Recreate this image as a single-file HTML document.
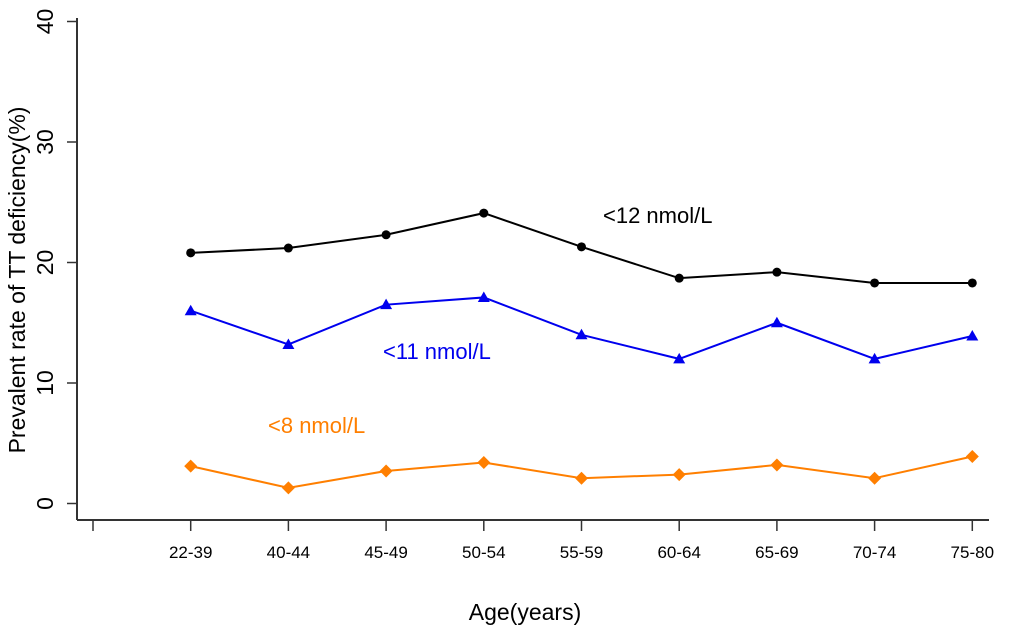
<!DOCTYPE html>
<html><head><meta charset="utf-8"><style>
body{margin:0;background:#fff}
svg{display:block;font-family:"Liberation Sans",Arial,sans-serif}
</style></head><body>
<svg id="chart" width="1020" height="636" viewBox="0 0 1020 636"></svg>
<script>
const categories=["22-39","40-44","45-49","50-54","55-59","60-64","65-69","70-74","75-80"];
const seriesLt12=[20.8,21.2,22.3,24.1,21.3,18.7,19.2,18.3,18.3];
const seriesLt11=[16.0,13.2,16.5,17.1,14.0,12.0,15.0,12.0,13.9];
const seriesLt8=[3.1,1.3,2.7,3.4,2.1,2.4,3.2,2.1,3.9];
const yTicks=[0,10,20,30,40];
const NS="http://www.w3.org/2000/svg";
const svg=document.getElementById('chart');
function el(t,a,p){const e=document.createElementNS(NS,t);for(const k in a)e.setAttribute(k,a[k]);(p||svg).appendChild(e);return e;}
const xs=i=>93+(i+1)*97.7;
const ys=v=>503.5-v*12.05;
let a=el('line',{x1:77,y1:18,x2:77,y2:520,stroke:'#333','stroke-width':2});


a=el('line',{x1:77,y1:520,x2:989,y2:520,stroke:'#333','stroke-width':2});


yTicks.forEach(v=>{
  const t=el('line',{x1:67,y1:ys(v),x2:77,y2:ys(v),stroke:'#333','stroke-width':1.5});
  
  
  const l=el('text',{x:0,y:0,transform:`translate(53,${ys(v)}) rotate(-90)`,'text-anchor':'middle','font-size':23,fill:'#000'});
  l.textContent=v;
  
  
});
for(let i=-1;i<categories.length;i++){
  const t=el('line',{x1:xs(i),y1:520,x2:xs(i),y2:531,stroke:'#333','stroke-width':1.5});
  
  
  if(i>=0){
    const l=el('text',{x:xs(i),y:558,'text-anchor':'middle','font-size':17,fill:'#000'});
    l.textContent=categories[i];
    
    
  }
}
let tt=el('text',{x:525,y:620,'text-anchor':'middle','font-size':23});
tt.textContent='Age(years)';


tt=el('text',{x:0,y:0,transform:'translate(25,280) rotate(-90)','text-anchor':'middle','font-size':23});
tt.textContent='Prevalent rate of TT deficiency(%)';


function series(vals,color,shape,name){
  const pl=el('polyline',{points:vals.map((v,i)=>xs(i)+','+ys(v)).join(' '),fill:'none',stroke:color,'stroke-width':2});
  
  
  vals.forEach((v,i)=>{
    const x=xs(i),y=ys(v);let m;
    if(shape==='c')m=el('circle',{cx:x,cy:y,r:4.5,fill:color});
    else if(shape==='t')m=el('polygon',{points:`${x},${y-6} ${x-6},${y+4.5} ${x+6},${y+4.5}`,fill:color});
    else m=el('polygon',{points:`${x},${y-6.5} ${x+6.5},${y} ${x},${y+6.5} ${x-6.5},${y}`,fill:color});
    
    
  });
}
series(seriesLt12,'#000','c','series-lt12');
series(seriesLt11,'#0000ee','t','series-lt11');
series(seriesLt8,'#ff7f00','d','series-lt8');
[['<12 nmol/L',603,223,'#000','label-lt12'],['<11 nmol/L',383,359,'#0000ee','label-lt11'],['<8 nmol/L',268,433,'#ff7f00','label-lt8']].forEach(d=>{
  const l=el('text',{x:d[1],y:d[2],'font-size':22,fill:d[3]});
  l.textContent=d[0];
  
  
});
</script>
</body></html>
